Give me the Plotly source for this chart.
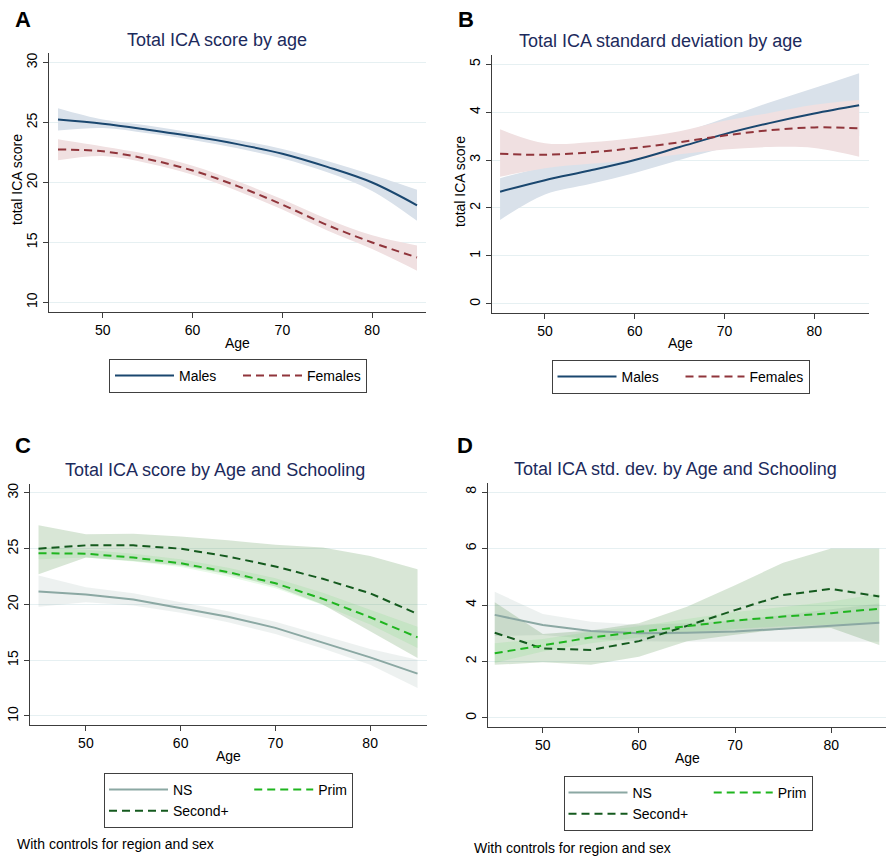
import plotly.graph_objects as go

# ---------------- data ----------------
ages = [45, 50, 55, 60, 65, 70, 75, 80, 85]

# Panel A: Total ICA score by age
males_score = [25.25, 24.9, 24.4, 23.85, 23.2, 22.4, 21.3, 20.0, 18.1]
males_score_lo = [24.33, 24.55, 24.1, 23.55, 22.85, 22.0, 20.85, 19.3, 16.8]
males_score_hi = [26.2, 25.25, 24.75, 24.15, 23.55, 22.8, 21.8, 20.65, 19.4]
females_score = [22.75, 22.6, 21.95, 21.0, 19.7, 18.15, 16.45, 15.0, 13.75]
females_score_lo = [21.85, 22.2, 21.6, 20.65, 19.3, 17.75, 16.0, 14.45, 12.65]
females_score_hi = [23.6, 23.0, 22.35, 21.4, 20.1, 18.6, 16.95, 15.6, 14.75]

# Panel B: Total ICA standard deviation by age
males_sd = [2.34, 2.58, 2.78, 3.0, 3.27, 3.54, 3.77, 3.97, 4.14]
males_sd_lo = [1.75, 2.28, 2.5, 2.73, 3.0, 3.25, 3.45, 3.55, 3.5]
males_sd_hi = [2.62, 2.86, 3.05, 3.28, 3.55, 3.87, 4.2, 4.5, 4.81]
females_sd = [3.13, 3.11, 3.16, 3.25, 3.37, 3.51, 3.62, 3.68, 3.66]
females_sd_lo = [2.65, 2.83, 2.92, 3.0, 3.12, 3.22, 3.27, 3.25, 3.07]
females_sd_hi = [3.64, 3.35, 3.37, 3.46, 3.6, 3.82, 3.98, 4.15, 4.25]

# Panel C: Total ICA score by Age and Schooling
ns_score = [21.15, 20.9, 20.45, 19.7, 18.9, 17.9, 16.6, 15.25, 13.8]
ns_score_lo = [19.8, 20.2, 19.9, 19.25, 18.4, 17.35, 16.05, 14.6, 12.5]
ns_score_hi = [22.6, 21.55, 21.0, 20.2, 19.4, 18.45, 17.25, 16.0, 15.05]
prim_score = [24.6, 24.55, 24.2, 23.7, 22.9, 21.9, 20.5, 18.85, 17.05]
prim_score_lo = [24.05, 24.2, 23.85, 23.35, 22.5, 21.45, 19.95, 18.2, 16.1]
prim_score_hi = [25.15, 24.9, 24.55, 24.05, 23.3, 22.35, 21.05, 19.5, 18.0]
sec_score = [25.0, 25.3, 25.3, 25.0, 24.3, 23.4, 22.3, 21.0, 19.15]
sec_score_lo = [22.7, 24.2, 23.9, 23.5, 22.7, 21.6, 20.0, 17.6, 15.2]
sec_score_hi = [27.1, 26.3, 26.35, 26.1, 25.75, 25.35, 25.1, 24.35, 23.15]

# Panel D: Total ICA std. dev. by Age and Schooling
ns_sd = [3.65, 3.29, 3.08, 3.0, 3.02, 3.06, 3.16, 3.27, 3.37]
ns_sd_lo = [2.9, 2.94, 2.8, 2.72, 2.7, 2.7, 2.7, 2.7, 2.7]
ns_sd_hi = [4.47, 3.68, 3.41, 3.3, 3.35, 3.45, 3.65, 3.85, 4.05]
prim_sd = [2.29, 2.58, 2.85, 3.05, 3.25, 3.45, 3.59, 3.71, 3.87]
prim_sd_lo = [1.95, 2.35, 2.65, 2.85, 3.0, 3.15, 3.25, 3.3, 3.35]
prim_sd_hi = [2.65, 2.8, 3.05, 3.25, 3.5, 3.75, 3.93, 4.12, 4.4]
sec_sd = [3.02, 2.46, 2.41, 2.72, 3.26, 3.82, 4.35, 4.57, 4.3]
sec_sd_lo = [1.88, 1.97, 1.88, 2.17, 2.72, 2.95, 3.15, 3.19, 2.58]
sec_sd_hi = [4.1, 2.97, 3.1, 3.35, 3.94, 4.7, 5.5, 6.0, 6.0]

x_ticks = [50, 60, 70, 80]
yA_ticks = [10, 15, 20, 25, 30]
yB_ticks = [0, 1, 2, 3, 4, 5]
yC_ticks = [10, 15, 20, 25, 30]
yD_ticks = [0, 2, 4, 6, 8]

# ---------------- style ----------------
W, H = 886, 857
FONT = "Liberation Sans, Arial, sans-serif"
NAVY = "#1a476f"
MAROON = "#90353b"
NAVY_BAND = "#d9e1ea"
MAROON_BAND = "#f0e0e1"
NS_C = "#8ba8a3"
PRIM_C = "#1fb51f"
SEC_C = "#145a1e"
NS_BAND = "rgba(140,170,160,0.16)"
PRIM_BAND = "rgba(70,215,70,0.12)"
SEC_BAND = "rgba(60,130,50,0.20)"
TITLE_C = "#1c2a5c"
AXIS_C = "#3c3c3c"
GRID_C = "#e6f0f2"
DASH = "8px,5px"
PAD = "&nbsp;" * 4  # widens the first legend column like the original

fig = go.Figure()


def ax(n):
    s = "" if n == 1 else str(n)
    return "x" + s, "y" + s


def band(x, lo, hi, color, n, shape="linear"):
    xa, ya = ax(n)
    fig.add_trace(go.Scatter(
        x=x, y=lo, mode="lines", line=dict(width=0, shape=shape),
        showlegend=False, hoverinfo="skip", xaxis=xa, yaxis=ya))
    fig.add_trace(go.Scatter(
        x=x, y=hi, mode="lines", line=dict(width=0, shape=shape),
        fill="tonexty", fillcolor=color,
        showlegend=False, hoverinfo="skip", xaxis=xa, yaxis=ya))


def line(x, y, name, color, n, dash=None, shape="linear", width=2, group=None, legend="legend"):
    xa, ya = ax(n)
    fig.add_trace(go.Scatter(
        x=x, y=y, name=name, mode="lines",
        line=dict(color=color, width=width, dash=dash, shape=shape),
        legend=legend, legendgroup=group, xaxis=xa, yaxis=ya))


# Panel A
band(ages, males_score_lo, males_score_hi, NAVY_BAND, 1, "spline")
band(ages, females_score_lo, females_score_hi, MAROON_BAND, 1, "spline")
line(ages, males_score, "Males", NAVY, 1, shape="spline", legend="legend")
line(ages, females_score, "Females", MAROON, 1, dash=DASH, shape="spline", legend="legend")

# Panel B
band(ages, males_sd_lo, males_sd_hi, NAVY_BAND, 2, "spline")
band(ages, females_sd_lo, females_sd_hi, MAROON_BAND, 2, "spline")
line(ages, males_sd, "Males", NAVY, 2, shape="spline", legend="legend2")
line(ages, females_sd, "Females", MAROON, 2, dash=DASH, shape="spline", legend="legend2")

# Panel C
band(ages, ns_score_lo, ns_score_hi, NS_BAND, 3)
band(ages, sec_score_lo, sec_score_hi, SEC_BAND, 3)
band(ages, prim_score_lo, prim_score_hi, PRIM_BAND, 3)
line(ages, ns_score, "NS", NS_C, 3, group="g1", legend="legend3")
line(ages, sec_score, "Second+" + PAD, SEC_C, 3, dash=DASH, group="g1", legend="legend3")
line(ages, prim_score, "Prim", PRIM_C, 3, dash=DASH, group="g2", legend="legend3")

# Panel D
band(ages, ns_sd_lo, ns_sd_hi, NS_BAND, 4)
band(ages, sec_sd_lo, sec_sd_hi, SEC_BAND, 4)
band(ages, prim_sd_lo, prim_sd_hi, PRIM_BAND, 4)
line(ages, ns_sd, "NS", NS_C, 4, group="g1", legend="legend4")
line(ages, sec_sd, "Second+" + PAD, SEC_C, 4, dash=DASH, group="g1", legend="legend4")
line(ages, prim_sd, "Prim", PRIM_C, 4, dash=DASH, group="g2", legend="legend4")


def px_x(p):
    return p / W


def px_y(p):
    return 1 - p / H


def xaxis(l, r, rng, anchor):
    return dict(domain=[px_x(l), px_x(r)], range=rng, anchor=anchor,
                tickvals=x_ticks, showline=True, linecolor=AXIS_C, linewidth=1.3,
                ticks="outside", ticklen=5, tickcolor=AXIS_C, tickwidth=1,
                showgrid=False, zeroline=False,
                tickfont=dict(size=14, color="black", family=FONT))


def yaxis(t, b, rng, ticks, anchor):
    return dict(domain=[px_y(b), px_y(t)], range=rng, anchor=anchor,
                tickvals=ticks, tickangle=-90, showline=True, linecolor=AXIS_C, linewidth=1.3,
                ticks="outside", ticklen=5, tickcolor=AXIS_C, tickwidth=1,
                showgrid=True, gridcolor=GRID_C, gridwidth=1, zeroline=False,
                tickfont=dict(size=14, color="black", family=FONT))


def leg(cx, top, grouped=False):
    d = dict(x=px_x(cx), y=px_y(top), xanchor="center", yanchor="top",
             orientation="h", bordercolor="#404040", borderwidth=1,
             bgcolor="white", font=dict(size=14, color="black", family=FONT),
             itemwidth=59)
    if grouped:
        d.update(traceorder="grouped", tracegroupgap=0)
    else:
        d.update(traceorder="normal", entrywidthmode="pixels", entrywidth=54)
    return d


annotations = []


def text(x, y, s, size=14, color="black", xanchor="center", bold=False, angle=0):
    annotations.append(dict(
        x=px_x(x), y=px_y(y), xref="paper", yref="paper", text=("<b>%s</b>" % s) if bold else s,
        showarrow=False, xanchor=xanchor, yanchor="middle", textangle=angle,
        font=dict(size=size, color=color, family=FONT)))


# panel letters
text(13, 19, "A", 22, xanchor="left", bold=True)
text(456, 19, "B", 22, xanchor="left", bold=True)
text(13, 446, "C", 22, xanchor="left", bold=True)
text(455, 446, "D", 22, xanchor="left", bold=True)
# titles
text(217, 40, "Total ICA score by age", 18, TITLE_C)
text(660, 41, "Total ICA standard deviation by age", 18, TITLE_C)
text(215, 470, "Total ICA score by Age and Schooling", 18, TITLE_C)
text(675, 469, "Total ICA std. dev. by Age and Schooling", 18, TITLE_C)
# axis titles
text(237.5, 343, "Age", 14)
text(680.5, 343, "Age", 14)
text(228.5, 756, "Age", 14)
text(687, 758, "Age", 14)
text(17, 180, "total ICA score", 14, angle=-90)
text(460, 182, "total ICA score", 14, angle=-90)
# notes
text(15, 844, "With controls for region and sex", 14, xanchor="left")
text(472, 848, "With controls for region and sex", 14, xanchor="left")

fig.update_layout(
    width=W, height=H, margin=dict(l=0, r=0, t=0, b=0),
    paper_bgcolor="white", plot_bgcolor="white",
    font=dict(family=FONT, size=14, color="black"),
    xaxis=xaxis(49, 426, [44.0, 86.0], "y"),
    yaxis=yaxis(53, 312, [9.2, 30.8], yA_ticks, "x"),
    xaxis2=xaxis(492, 869, [44.1, 86.1], "y2"),
    yaxis2=yaxis(55, 313, [-0.19, 5.19], yB_ticks, "x2"),
    xaxis3=xaxis(30, 427, [44.1, 86.0], "y3"),
    yaxis3=yaxis(484, 725, [9.19, 30.8], yC_ticks, "x3"),
    xaxis4=xaxis(488, 886, [44.3, 85.7], "y4"),
    yaxis4=yaxis(483, 727, [-0.32, 8.32], yD_ticks, "x4"),
    legend=leg(238, 359),
    legend2=leg(680.5, 360),
    legend3=leg(228.5, 773, True),
    legend4=leg(688, 776, True),
    annotations=annotations,
    hovermode=False,
)

fig.write_html(
    "out.html",
    config={"displayModeBar": False},
    post_script="document.body.style.margin='0';document.body.style.padding='0';"
                "document.body.style.overflow='hidden';",
)
